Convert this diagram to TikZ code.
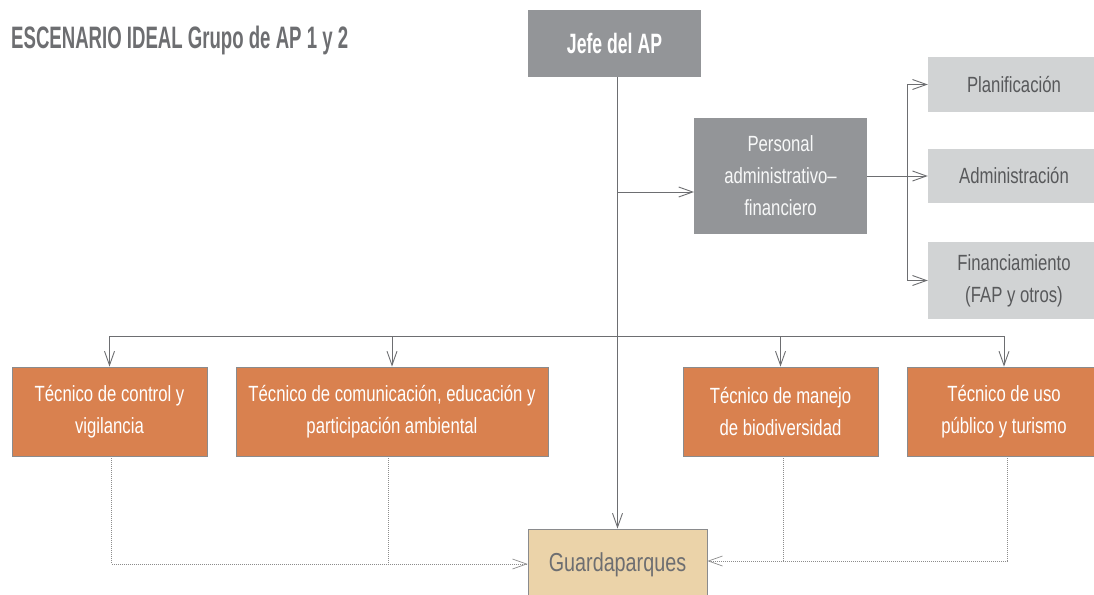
\documentclass[tikz,border=0pt]{standalone}
\usepackage{fontspec}
\usetikzlibrary{arrows.meta}
\newfontfamily\condlight[FakeStretch=0.76,Ligatures=TeX]{Liberation Sans}
\newfontfamily\condbold[FakeStretch=0.63,Ligatures=TeX]{Liberation Sans}
\newfontfamily\titlebold[FakeStretch=0.60,Ligatures=TeX]{Liberation Sans}
\definecolor{orangebox}{HTML}{D9814F}
\definecolor{graybox}{HTML}{939598}
\definecolor{lightbox}{HTML}{D1D3D4}
\definecolor{beigebox}{HTML}{EBD3A9}
\definecolor{linec}{HTML}{6D6E71}
\definecolor{dotc}{HTML}{8C8C8C}
\definecolor{titlec}{HTML}{6D6E71}
\definecolor{darktext}{HTML}{58595B}
\tikzset{
  lighttext/.style={font=\condlight\fontsize{22}{32}\selectfont, align=center},
  orangenode/.style={draw=linec!80, line width=0.9pt, fill=orangebox, text=white, lighttext, inner sep=0pt},
  graynode/.style={fill=graybox, inner sep=0pt},
  rightnode/.style={fill=lightbox, text=darktext, lighttext, inner sep=0pt, minimum width=172, minimum height=55},
  arr/.style={draw=linec, line width=0.9pt, -{Straight Barb[length=14pt,width=10pt,line width=0.9pt]}},
  conn/.style={draw=linec, line width=0.9pt},
  dotconn/.style={draw=dotc, line width=0.7pt, dash pattern=on 1pt off 1pt},
  dotarr/.style={dotconn, -{Straight Barb[length=14pt,width=10pt,line width=0.7pt,sep=0pt]}}
}
\begin{document}
\begin{tikzpicture}[x=1pt,y=-1pt]
\path[use as bounding box] (0,0) rectangle (1094,594);
\clip (0,0) rectangle (1094,594);

% title
\node[anchor=base west, inner sep=0pt, text=titlec, font=\titlebold\bfseries\fontsize{31}{34}\selectfont] (title) at (11,48.3) {ESCENARIO IDEAL Grupo de AP 1 y 2};

% top boxes
\node[graynode, minimum width=173, minimum height=67, text=white, font=\condbold\bfseries\fontsize{28}{32}\selectfont] (jefe) at (614.5,43.5) {Jefe del AP};
\node[graynode, minimum width=173, minimum height=116, text=white!93!graybox, lighttext] (pers) at (780.5,176) {Personal\\administrativo–\\financiero};

% right boxes
\node[rightnode] (plan) at (1014,84.5) {Planificación};
\node[rightnode, minimum height=54] (admin) at (1014,176) {Administración};
\node[rightnode, minimum height=77] (fin) at (1014,280.5) {Financiamiento\\(FAP y otros)};

% technical boxes
\node[orangenode, minimum width=195, minimum height=89] (b1) at (109.5,411.5) {Técnico de control y\\vigilancia};
\node[orangenode, minimum width=312, minimum height=89] (b2) at (392,411.5) {Técnico de comunicación, educación y\\participación ambiental};
\node[orangenode, minimum width=195, minimum height=89] (b3) at (780.5,411.5) {Técnico de manejo\\de biodiversidad};
\node[orangenode, minimum width=194, minimum height=89] (b4) at (1004,411.5) {Técnico de uso\\público y turismo};

% guardaparques
\node[draw=linec!80, line width=0.9pt, fill=beigebox, text=linec, inner sep=0pt, minimum width=179, minimum height=72, font=\condlight\fontsize{26}{30}\selectfont] (guard) at (617.5,565) {Guardaparques};

% coordinates
\coordinate (pin) at (694,192);
\coordinate (busy) at (0,336);
\coordinate (busx) at (907,0);

% trunk
\draw[arr] (guard.north |- jefe.south) -- (guard.north);
\draw[arr] (guard.north |- pin) -- (pin);

% personal to right boxes
\draw[conn] (pers.east |- admin) -- (busx |- admin);
\draw[conn] (busx |- plan) -- (busx |- fin);
\draw[arr] (busx |- plan) -- (plan.west);
\draw[arr] (busx |- admin) -- (admin.west);
\draw[arr] (busx |- fin) -- (fin.west);

% horizontal bus
\draw[conn] (b1.north |- busy) -- (b4.north |- busy);
\draw[arr] (b1.north |- busy) -- (b1.north);
\draw[arr] (b2.north |- busy) -- (b2.north);
\draw[arr] (b3.north |- busy) -- (b3.north);
\draw[arr] (b4.north |- busy) -- (b4.north);

% dotted
\draw[dotarr] ([xshift=2pt]b1.south) |- ([yshift=1pt]guard.west);
\draw[dotconn] ([xshift=-4pt]b2.south) -- ([xshift=-4pt,yshift=1pt]b2.south |- guard.west);
\draw[dotarr] ([xshift=3pt]b4.south) |- ([yshift=4pt]guard.east);
\draw[dotconn] ([xshift=3pt]b3.south) -- ([xshift=3pt,yshift=4pt]b3.south |- guard.east);
\end{tikzpicture}
\end{document}
